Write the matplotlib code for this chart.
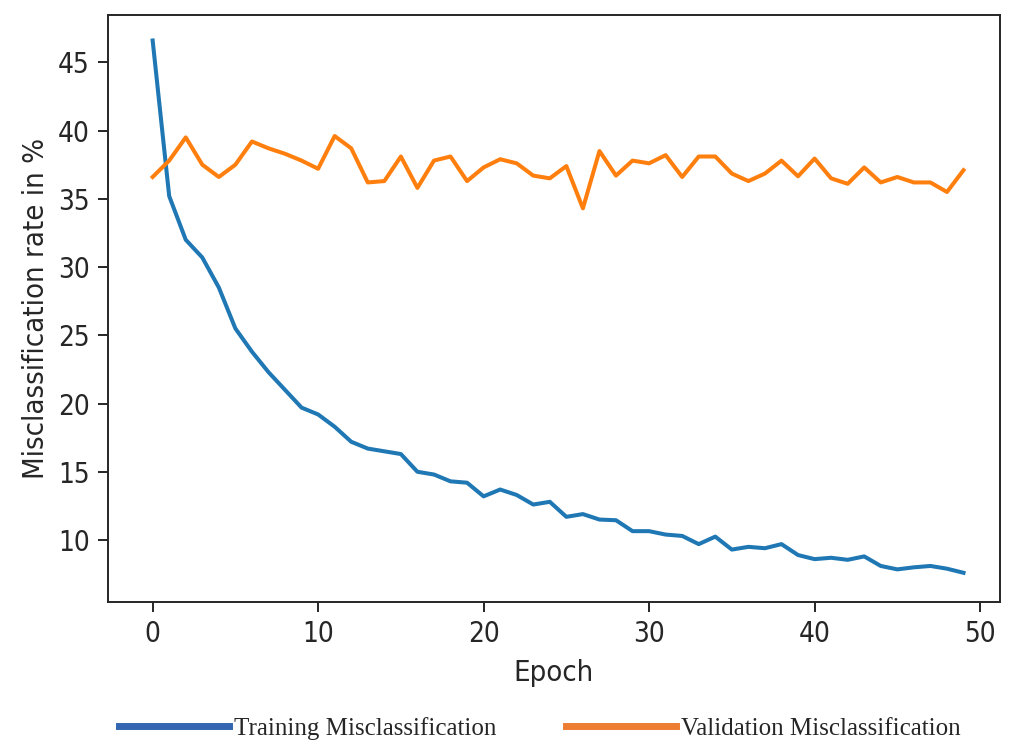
import matplotlib.pyplot as plt
from matplotlib.lines import Line2D

epochs = list(range(50))
train_err = [46.6, 35.2, 32.0, 30.7, 28.5, 25.5, 23.8, 22.3, 21.0, 19.7,
             19.2, 18.3, 17.2, 16.7, 16.5, 16.3, 15.0, 14.8, 14.3, 14.2,
             13.2, 13.7, 13.3, 12.6, 12.8, 11.7, 11.9, 11.5, 11.45, 10.65,
             10.65, 10.4, 10.3, 9.7, 10.25, 9.3, 9.5, 9.4, 9.7, 8.9,
             8.6, 8.7, 8.55, 8.8, 8.1, 7.85, 8.0, 8.1, 7.9, 7.6]
val_err = [36.6, 37.8, 39.5, 37.5, 36.6, 37.5, 39.2, 38.7, 38.3, 37.8,
           37.2, 39.6, 38.7, 36.2, 36.3, 38.1, 35.8, 37.8, 38.1, 36.3,
           37.3, 37.9, 37.6, 36.7, 36.5, 37.4, 34.3, 38.5, 36.7, 37.8,
           37.6, 38.2, 36.6, 38.1, 38.1, 36.85, 36.3, 36.85, 37.8, 36.65,
           37.95, 36.5, 36.1, 37.3, 36.2, 36.6, 36.2, 36.2, 35.5, 37.1]
legend_labels = ['Training Misclassification', 'Validation Misclassification']

plt.rcParams['font.size'] = 20
plt.rcParams['font.stretch'] = 'condensed'
plt.rcParams['axes.linewidth'] = 1.4
plt.rcParams['text.color'] = '#262626'
plt.rcParams['axes.labelcolor'] = '#262626'
plt.rcParams['xtick.color'] = '#262626'
plt.rcParams['ytick.color'] = '#262626'
plt.rcParams['axes.edgecolor'] = '#262626'

fig = plt.figure(figsize=(10.09, 7.54), dpi=100)
ax = fig.add_axes([0.107, 0.2016, 0.884, 0.778])

ax.plot(epochs, train_err, color='#1f77b4', lw=2.9)
ax.plot(epochs, val_err, color='#ff7f0e', lw=2.9)
ax.set_xlabel('Epoch', fontsize=21, labelpad=8)
ax.set_ylabel('Misclassification rate in %', fontsize=21, labelpad=6)
ax.set_xticks([0, 10, 20, 30, 40, 50])
ax.set_yticks([10, 15, 20, 25, 30, 35, 40, 45])
ax.set_xlim(-2.7, 51.2)
ax.set_ylim(5.46, 48.44)
ax.tick_params(length=7, width=1.4, pad=6, labelsize=20)

handles = [Line2D([], [], color='#3366b0', lw=5),
           Line2D([], [], color='#ed7d31', lw=5)]
fig.legend(handles, legend_labels, loc='center', bbox_to_anchor=(0.535, 0.034),
           ncol=2, frameon=False, handlelength=4.4, handletextpad=0.2,
           columnspacing=2.8, prop={'family': 'Liberation Serif', 'size': 18})

fig.savefig('out.png', dpi=100)
